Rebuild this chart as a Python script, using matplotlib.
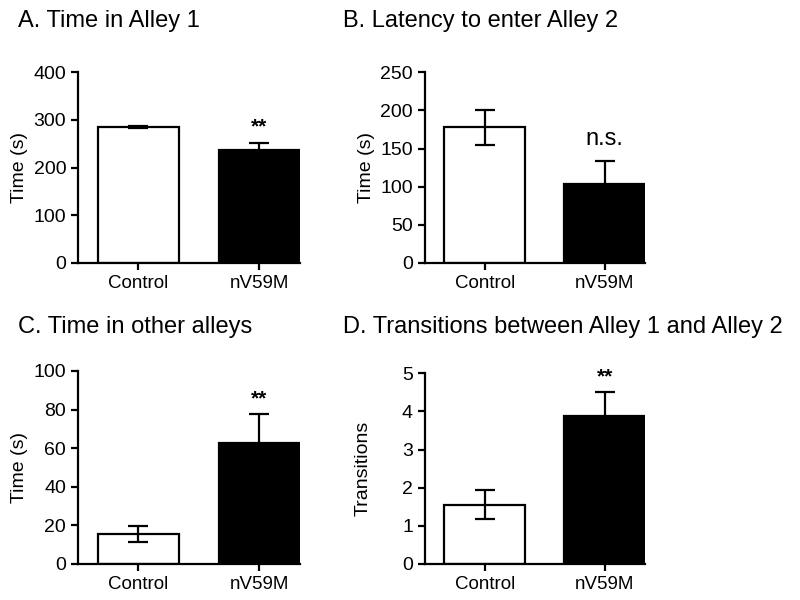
import matplotlib
matplotlib.use("Agg")
import matplotlib.pyplot as plt

plt.rcParams['font.family'] = ['Liberation Sans', 'DejaVu Sans']

# --------------------- data ---------------------
GROUPS = ["Control", "nV59M"]
COLORS = ["white", "black"]

TITLES = ["A. Time in Alley 1", "B. Latency to enter Alley 2",
          "C. Time in other alleys", "D. Transitions between Alley 1 and Alley 2"]
YLABELS = ["Time (s)", "Time (s)", "Time (s)", "Transitions"]

alley1_mean = [285, 236]
alley1_sem = [3, 16]
latency_mean = [178, 103]
latency_sem = [23, 30]
other_mean = [15.7, 62.8]
other_sem = [4.1, 14.8]
trans_mean = [1.55, 3.87]
trans_sem = [0.38, 0.63]

MEANS = [alley1_mean, latency_mean, other_mean, trans_mean]
SEMS = [alley1_sem, latency_sem, other_sem, trans_sem]
YMAX = [400, 250, 100, 5]
YSTEP = [100, 50, 20, 1]
SIG = ["**", "n.s.", "**", "**"]
SIG_Y = [273, 154, 82.5, 4.76]

# axes rectangles in figure fraction (left, bottom, width, height)
RECTS = [(0.0975, 0.5617, 0.2775, 0.318),
         (0.531, 0.5617, 0.275, 0.318),
         (0.0975, 0.06, 0.2775, 0.3217),
         (0.531, 0.06, 0.275, 0.318)]
TITLE_POS = [(0.0225, 0.955), (0.429, 0.955), (0.0225, 0.445), (0.429, 0.445)]
LABEL_X = [-0.225, -0.227, -0.225, -0.24]

fig = plt.figure(figsize=(8, 6), dpi=100)

for i in range(4):
    ax = fig.add_axes(RECTS[i])
    x = [0, 1]
    ax.bar(x, MEANS[i], width=0.672, color=COLORS, edgecolor="black", linewidth=1.6, zorder=2)
    ax.errorbar(x, MEANS[i], yerr=SEMS[i], fmt="none", ecolor="black",
                elinewidth=1.6, capsize=7, capthick=1.6, zorder=3)
    ax.set_xlim(-0.5, 1.336)
    ax.set_ylim(0, YMAX[i])
    ax.set_yticks([YSTEP[i] * k for k in range(int(round(YMAX[i] / YSTEP[i])) + 1)])
    ax.set_xticks(x)
    ax.set_xticklabels(GROUPS)
    ax.spines['top'].set_visible(False)
    ax.spines['right'].set_visible(False)
    for s in ['left', 'bottom']:
        ax.spines[s].set_linewidth(1.6)
    ax.tick_params(axis='both', width=1.6, length=5, direction='out')
    ax.tick_params(axis='y', labelsize=14)
    ax.tick_params(axis='x', labelsize=13.5)
    ax.set_ylabel(YLABELS[i], fontsize=14)
    ax.yaxis.set_label_coords(LABEL_X[i], 0.5)
    if SIG[i] == "n.s.":
        ax.text(1, SIG_Y[i], SIG[i], ha='center', va='baseline', fontsize=17)
    else:
        ax.text(1, SIG_Y[i], SIG[i], ha='center', va='baseline', fontsize=15, fontweight='bold')
    fig.text(TITLE_POS[i][0], TITLE_POS[i][1], TITLES[i], fontsize=17, ha='left', va='baseline')

fig.savefig("out.png", dpi=100)
